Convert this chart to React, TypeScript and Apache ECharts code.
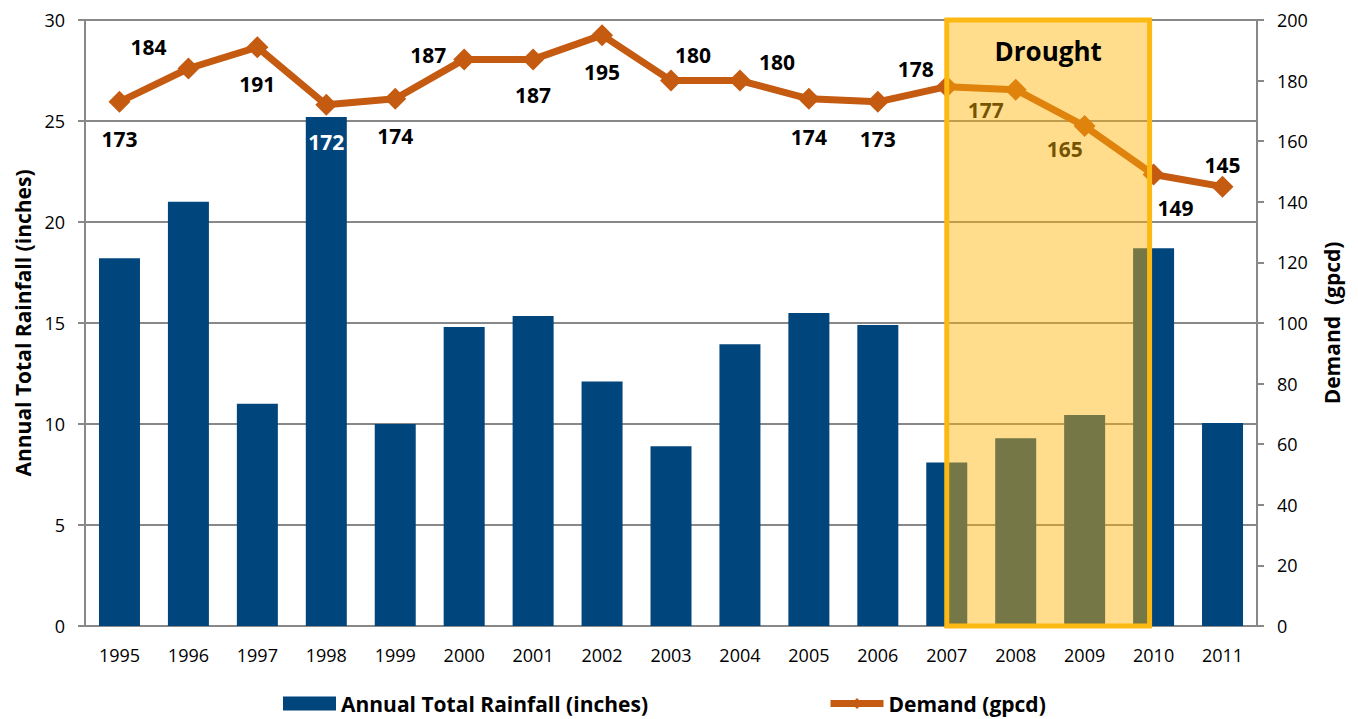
import React, { useEffect, useRef } from "react";
import * as echarts from "echarts";

const years = ["1995","1996","1997","1998","1999","2000","2001","2002","2003","2004","2005","2006","2007","2008","2009","2010","2011"];
const rainfall = [18.2, 21.0, 11.0, 25.2, 10.0, 14.8, 15.35, 12.1, 8.9, 13.95, 15.5, 14.9, 8.1, 9.3, 10.45, 18.7, 10.05];
const demand = [173, 184, 191, 172, 174, 187, 187, 195, 180, 180, 174, 173, 178, 177, 165, 149, 145];
const droughtStart = "2007";
const droughtEnd = "2010";

// label offsets (layout only)
const labelOffsets: [number, number][] = [
  [0, 37], [-40, -21], [0, 37], [0, 37], [0, 37], [-36, -4], [0, 36], [0, 37], [22, -26],
  [37, -19], [0, 38], [0, 37], [-31, -18], [-30, 20], [-20, 23], [22, 33], [0, -22],
];

const FONT = "'Open Sans', 'Noto Sans', sans-serif";
const NAVY = "#00457C";
const ORANGE = "#C55A11";
const GRAY = "#888888";

export default function App() {
  const ref = useRef<HTMLDivElement>(null);
  useEffect(() => {
    document.body.style.margin = "0";
    const chart = echarts.init(ref.current!, undefined, { renderer: "svg" });
    chart.setOption({
      animation: false,
      textStyle: { fontFamily: FONT },
      grid: { left: 85, right: 101, top: 20, bottom: 93, containLabel: false },
      legend: {
        bottom: 0,
        left: 278,
        itemWidth: 53,
        itemHeight: 14,
        itemGap: 179,
        textStyle: { fontFamily: FONT, fontWeight: "bold", fontSize: 21, color: "#000" },
        data: [
          { name: "Annual Total Rainfall (inches)", icon: "rect" },
          { name: "Demand (gpcd)", lineStyle: { width: 7 }, itemStyle: { color: ORANGE } },
        ],
      },
      xAxis: {
        type: "category",
        data: years,
        axisLine: { lineStyle: { color: GRAY, width: 2 } },
        axisTick: { show: false },
        axisLabel: { color: "#000", fontSize: 18, margin: 20, fontFamily: FONT },
      },
      yAxis: [
        {
          type: "value",
          min: 0,
          max: 30,
          interval: 5,
          name: "Annual Total Rainfall (inches)",
          nameLocation: "middle",
          nameRotate: 90,
          nameGap: 52,
          nameTextStyle: { fontWeight: "bold", fontSize: 21, color: "#000", fontFamily: FONT },
          axisLine: { show: true, lineStyle: { color: GRAY, width: 2 } },
          axisTick: { show: true, length: 7, lineStyle: { color: GRAY, width: 2 } },
          axisLabel: { color: "#000", fontSize: 18, margin: 20, fontFamily: FONT },
          splitLine: { show: true, lineStyle: { color: GRAY, width: 2 } },
        },
        {
          type: "value",
          min: 0,
          max: 200,
          interval: 20,
          name: "Demand  (gpcd)",
          nameLocation: "middle",
          nameRotate: 90,
          nameGap: 64,
          nameTextStyle: { fontWeight: "bold", fontSize: 21, color: "#000", fontFamily: FONT },
          axisLine: { show: true, lineStyle: { color: GRAY, width: 2 } },
          axisTick: { show: true, length: 7, lineStyle: { color: GRAY, width: 2 } },
          axisLabel: { color: "#000", fontSize: 18, margin: 20, fontFamily: FONT },
          splitLine: { show: false },
        },
      ],
      series: [
        {
          name: "Annual Total Rainfall (inches)",
          type: "bar",
          yAxisIndex: 0,
          data: rainfall,
          barWidth: 41,
          itemStyle: { color: NAVY },
          z: 2,
        },
        {
          name: "Demand (gpcd)",
          type: "line",
          yAxisIndex: 1,
          data: demand.map((v, i) => ({
            value: v,
            label: {
              offset: labelOffsets[i],
              color: years[i] === "1998" ? "#FFFFFF" : "#000000",
            },
          })),
          symbol: "diamond",
          symbolSize: 22,
          lineStyle: { color: ORANGE, width: 7 },
          itemStyle: { color: ORANGE },
          label: {
            show: true,
            position: "inside",
            fontWeight: "bold",
            fontSize: 21,
            fontFamily: FONT,
            color: "#000",
          },
          z: 5,
        },
      ],
    });

    const pTop = chart.convertToPixel({ xAxisIndex: 0, yAxisIndex: 0 }, [droughtStart, 30]) as number[];
    const pBot = chart.convertToPixel({ xAxisIndex: 0, yAxisIndex: 0 }, [droughtEnd, 0]) as number[];
    const x1 = pTop[0];
    const y1 = pTop[1];
    const x2 = pBot[0] - 4;
    const y2 = pBot[1];
    chart.setOption({
      graphic: [
        {
          type: "rect",
          z: 100,
          shape: { x: x1, y: y1, width: x2 - x1, height: y2 - y1 },
          style: { fill: "rgba(255,180,7,0.46)", stroke: "#FDB913", lineWidth: 5 },
        },
        {
          type: "text",
          z: 101,
          x: (x1 + x2) / 2,
          y: y1 + 31,
          style: {
            text: "Drought",
            font: `bold 26px ${FONT}`,
            fill: "#000",
            align: "center",
            verticalAlign: "middle",
          },
        },
      ],
    });

    return () => chart.dispose();
  }, []);
  return <div ref={ref} style={{ width: 1358, height: 719 }} />;
}
